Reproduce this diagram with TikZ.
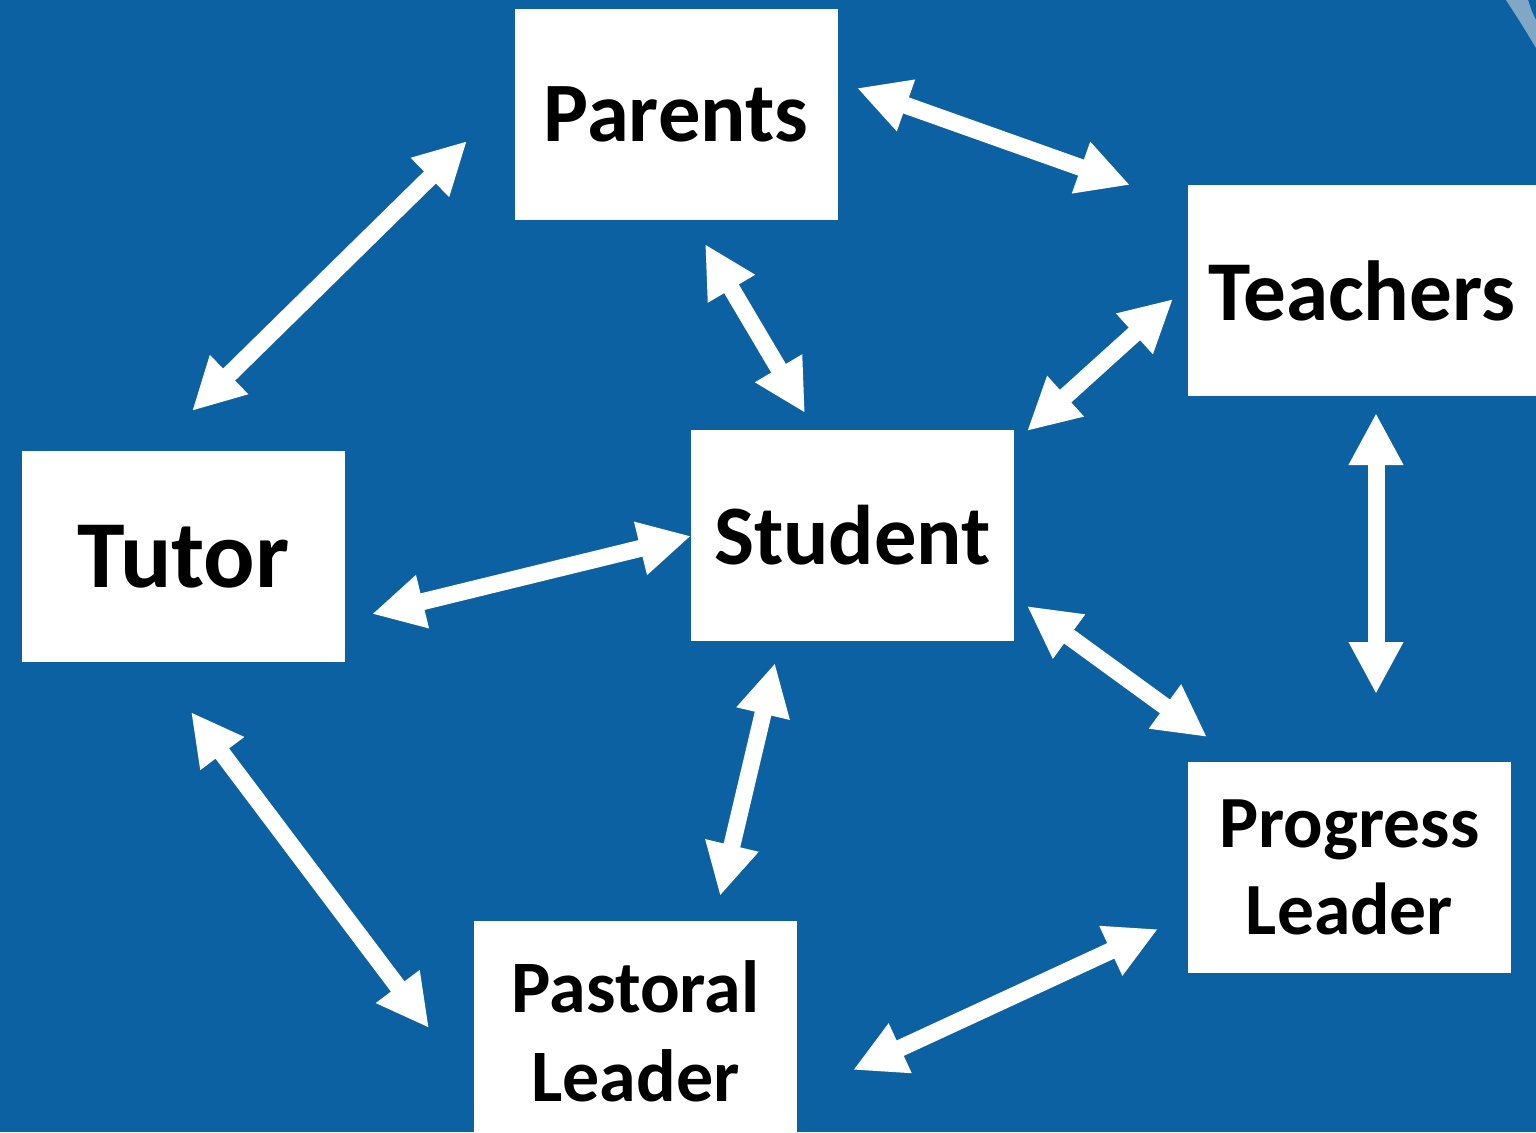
\documentclass[tikz,border=0pt]{standalone}
\usepackage{fontspec}
\setmainfont{Carlito}
\usetikzlibrary{arrows.meta}
\definecolor{bgblue}{RGB}{11,97,161}
\definecolor{streak}{RGB}{128,168,196}
\begin{document}
\begin{tikzpicture}[x=0.5pt,y=-0.5pt,
  box/.style={fill=white,draw=none,inner sep=0pt,align=center,
    minimum width=161.5pt,minimum height=105.5pt,font=\bfseries},
  link/.style={draw=white,line width=8.5pt,
    {Triangle[length=26pt,width=25.5pt]}-{Triangle[length=26pt,width=25.5pt]}}]
  % canvas
  \useasboundingbox (0,0) rectangle (1536,1132);
  \clip (0,0) rectangle (1536,1132);
  \fill[bgblue] (0,0) rectangle (1536,1132);
  \fill[streak] (1506,0) -- (1528,0) .. controls (1532,12) .. (1536,20)
    -- (1536,48) .. controls (1524,28) .. (1506,0) -- cycle;

  % boxes
  \node[box,font=\bfseries\fontsize{42.3}{50}\selectfont] (parents) at (676,114) {Parents};
  \node[box,minimum width=174pt,font=\bfseries\fontsize{42.6}{50}\selectfont] (teachers) at (1362,290.5) {Teachers};
  \node[box,font=\bfseries\fontsize{48}{56}\selectfont] (tutor) at (183.5,556.5) {Tutor};
  \node[box,font=\bfseries\fontsize{42.3}{50}\selectfont] (student) at (852.5,535.5) {Student};
  \node[box,font=\bfseries\fontsize{36.8}{43.5}\selectfont] (progress) at (1349.5,867) {Progress\\Leader};
  \node[box,minimum height=110pt,font=\bfseries\fontsize{37}{44.5}\selectfont] (pastoral) at (635.5,1031) {Pastoral\\Leader};

  % arrow ends
  \coordinate (pa-te) at (857,88);    \coordinate (te-pa) at (1130,185);
  \coordinate (pa-tu) at (467,141);   \coordinate (tu-pa) at (192,411);
  \coordinate (pa-st) at (705,244);   \coordinate (st-pa) at (805,413);
  \coordinate (te-st) at (1173,299);  \coordinate (st-te) at (1027,431);
  \coordinate (te-pr) at (1376,413);  \coordinate (pr-te) at (1376,694);
  \coordinate (tu-st) at (372,614);   \coordinate (st-tu) at (691,536);
  \coordinate (st-pr) at (1027,606);  \coordinate (pr-st) at (1207,737);
  \coordinate (st-ps) at (775,663);   \coordinate (ps-st) at (720,896);
  \coordinate (tu-ps) at (191,712);   \coordinate (ps-tu) at (429,1028);
  \coordinate (ps-pr) at (853,1070);  \coordinate (pr-ps) at (1158,929);

  % two-way links
  \draw[link] (pa-te) -- (te-pa);
  \draw[link] (pa-tu) -- (tu-pa);
  \draw[link] (pa-st) -- (st-pa);
  \draw[link] (te-st) -- (st-te);
  \draw[link] (te-pr) -- (pr-te);
  \draw[link] (tu-st) -- (st-tu);
  \draw[link] (st-pr) -- (pr-st);
  \draw[link] (st-ps) -- (ps-st);
  \draw[link] (tu-ps) -- (ps-tu);
  \draw[link] (ps-pr) -- (pr-ps);
\end{tikzpicture}
\end{document}
